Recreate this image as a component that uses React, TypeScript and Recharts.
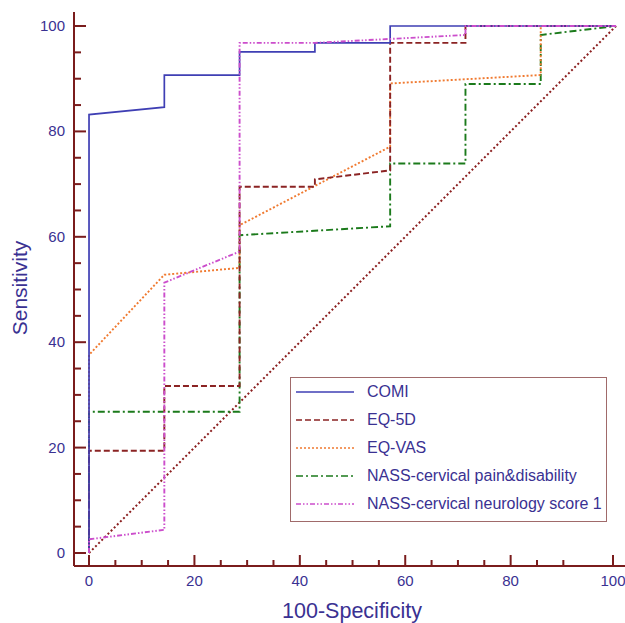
import { LineChart, Line, XAxis, YAxis, Label } from 'recharts';

// ROC points (x = 100-Specificity, y = Sensitivity)
const COMI_X = [0, 0, 14.29, 14.29, 28.57, 28.57, 42.86, 42.86, 57.14, 57.14, 100];
const COMI_Y = [0, 83.2, 84.6, 90.7, 90.7, 95.1, 95.1, 96.8, 96.8, 100, 100];

const EQ5D_X = [0, 0, 14.29, 14.29, 28.57, 28.57, 42.86, 42.86, 57.14, 57.14, 71.43, 71.43, 100];
const EQ5D_Y = [0, 19.4, 19.4, 31.7, 31.7, 69.5, 69.5, 70.9, 72.6, 96.8, 96.8, 100, 100];

const EQVAS_X = [0, 0, 14.29, 28.57, 28.57, 57.14, 57.14, 85.71, 85.71, 100];
const EQVAS_Y = [0, 37.6, 52.8, 54.1, 62.2, 77.1, 89.1, 90.7, 100, 100];

const PAIN_X = [0, 0, 28.57, 28.57, 57.14, 57.14, 71.43, 71.43, 85.71, 85.71, 100];
const PAIN_Y = [0, 26.8, 26.8, 60.3, 62.0, 73.9, 73.9, 89.0, 89.0, 98.3, 100];

const NEURO_X = [0, 0, 14.29, 14.29, 28.57, 28.57, 42.86, 71.43, 71.43, 100];
const NEURO_Y = [0, 2.6, 4.4, 51.3, 57.2, 96.8, 96.8, 98.3, 100, 100];

const DIAG_X = [0, 100];
const DIAG_Y = [0, 100];

const TICKS = [0, 5, 10, 15, 20, 25, 30, 35, 40, 45, 50, 55, 60, 65, 70, 75, 80, 85, 90, 95, 100];
const MAJOR = [0, 20, 40, 60, 80, 100];

const toRows = (xs: number[], ys: number[]) => xs.map((x, i) => ({ x, y: ys[i] }));

const AXIS = '#7a1c1c';
const TEXT = '#3a3192';
const FONT = '"Liberation Sans", Arial, Helvetica, sans-serif';

// plot frame (px)
const PLOT_LEFT = 74;
const PLOT_BOTTOM = 566;

const SERIES = [
  { name: 'COMI', rows: toRows(COMI_X, COMI_Y), color: '#3f3fb4', dash: undefined, w: 1.7 },
  { name: 'EQ-5D', rows: toRows(EQ5D_X, EQ5D_Y), color: '#8b2323', dash: '6 3', w: 1.9 },
  { name: 'EQ-VAS', rows: toRows(EQVAS_X, EQVAS_Y), color: '#f07a30', dash: '2 2', w: 1.9 },
  { name: 'NASS-cervical pain&disability', rows: toRows(PAIN_X, PAIN_Y), color: '#1b7a1b', dash: '7 3 2 3', w: 1.9 },
  { name: 'NASS-cervical neurology score 1', rows: toRows(NEURO_X, NEURO_Y), color: '#cc4ecc', dash: '5 2 1.5 2 1.5 2', w: 1.9 },
];

const XTick = (props: any) => {
  const { x, payload } = props;
  const major = MAJOR.includes(payload.value);
  return (
    <g>
      <line x1={x} x2={x} y1={PLOT_BOTTOM} y2={PLOT_BOTTOM - (major ? 11 : 6)} stroke={AXIS} strokeWidth={2} />
      {major && (
        <text x={x} y={PLOT_BOTTOM + 20} textAnchor="middle" fill={TEXT} fontSize={15} fontFamily={FONT}>
          {payload.value}
        </text>
      )}
    </g>
  );
};

const YTick = (props: any) => {
  const { y, payload } = props;
  const major = MAJOR.includes(payload.value);
  return (
    <g>
      <line x1={PLOT_LEFT} x2={PLOT_LEFT + (major ? 12 : 7)} y1={y} y2={y} stroke={AXIS} strokeWidth={2} />
      {major && (
        <text x={PLOT_LEFT - 9} y={y + 5} textAnchor="end" fill={TEXT} fontSize={15} fontFamily={FONT}>
          {payload.value}
        </text>
      )}
    </g>
  );
};

function LegendBox() {
  return (
    <div
      style={{
        position: 'absolute', left: 290, top: 377, width: 315, height: 143,
        border: '1.5px solid #a06a6a', fontFamily: FONT,
      }}
    >
      {SERIES.map((s, i) => (
        <div key={s.name} style={{ position: 'absolute', left: 4, top: 3 + i * 28, height: 22, display: 'flex', alignItems: 'center' }}>
          <svg width={60} height={6}>
            <line x1={1} x2={59} y1={3} y2={3} stroke={s.color} strokeWidth={1.6} strokeDasharray={s.dash} />
          </svg>
          <span style={{ marginLeft: 12, color: TEXT, fontSize: 16, whiteSpace: 'nowrap' }}>{s.name}</span>
        </div>
      ))}
    </div>
  );
}

export default function App() {
  return (
    <div style={{ position: 'absolute', left: 0, top: 0, width: 625, height: 623, background: '#fff' }}>
      <LineChart width={625} height={623} margin={{ top: 12, right: 0, bottom: 0, left: 0 }}>
        <XAxis
          type="number" dataKey="x" domain={[-2.85, 101.7]} ticks={TICKS} allowDataOverflow
          height={57} tickSize={0} tick={XTick} tickLine={false}
          axisLine={{ stroke: AXIS, strokeWidth: 2 }}
        >
          <Label
            content={() => (
              <text x={352} y={618} textAnchor="middle" fill={TEXT} fontSize={21.5} fontFamily={FONT}>
                100-Specificity
              </text>
            )}
          />
        </XAxis>
        <XAxis
          xAxisId="top" orientation="top" type="number" dataKey="x" domain={[-2.85, 101.7]}
          height={0} tick={false} tickLine={false} axisLine={{ stroke: AXIS, strokeWidth: 2 }}
        />
        <YAxis
          type="number" dataKey="y" domain={[-2.47, 102.66]} ticks={TICKS} allowDataOverflow
          width={PLOT_LEFT} tickSize={0} tick={YTick} tickLine={false}
          axisLine={{ stroke: AXIS, strokeWidth: 2 }}
        >
          <Label
            content={() => (
              <text
                x={27} y={288} textAnchor="middle" fill={TEXT} fontSize={21} fontFamily={FONT}
                transform="rotate(-90 27 288)"
              >
                Sensitivity
              </text>
            )}
          />
        </YAxis>
        <Line
          data={toRows(DIAG_X, DIAG_Y)} dataKey="y" stroke="#8b2020" strokeWidth={2}
          strokeDasharray="2 2.4" dot={false} isAnimationActive={false} legendType="none"
        />
        {[3, 2, 1, 0, 4].map((i) => {
          const s = SERIES[i];
          return (
            <Line
              key={s.name} data={s.rows} dataKey="y" name={s.name} stroke={s.color}
              strokeWidth={s.w} strokeDasharray={s.dash} dot={false} isAnimationActive={false}
            />
          );
        })}
      </LineChart>
      <LegendBox />
    </div>
  );
}
